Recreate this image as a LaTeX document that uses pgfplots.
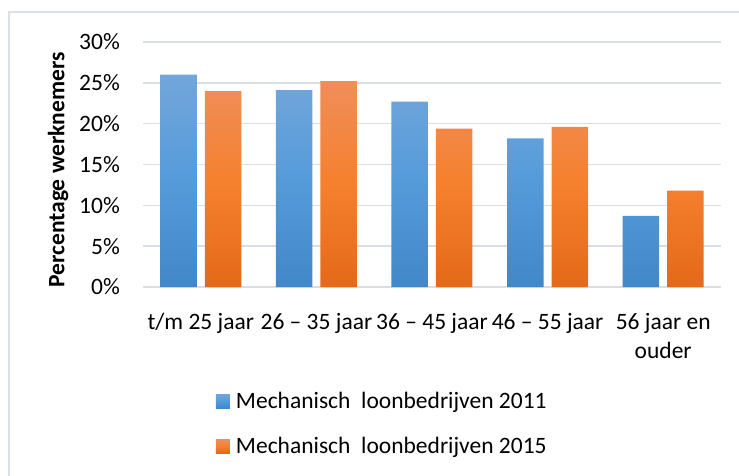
\documentclass[border=0pt]{standalone}
\usepackage{pgfplots}
\pgfplotsset{compat=1.18}
\usepackage{fontspec}
\setmainfont{Carlito}
\definecolor{gridc}{RGB}{217,222,228}
\definecolor{bordc}{RGB}{220,225,231}
\definecolor{btop}{RGB}{114,166,218}
\definecolor{bmid}{RGB}{85,155,218}
\definecolor{bbot}{RGB}{66,136,201}
\definecolor{otop}{RGB}{240,142,90}
\definecolor{omid}{RGB}{245,128,45}
\definecolor{obot}{RGB}{228,105,25}
\begin{document}
\fontsize{23.5bp}{29bp}\selectfont
\begin{tikzpicture}
\useasboundingbox (-143bp,-189bp) rectangle (596bp,287bp);
\draw[bordc, line width=2bp] (-134bp,-200bp) -- (-134bp,275bp) -- (610bp,275bp);
\begin{axis}[
  at={(0,0)}, anchor=south west,
  scale only axis,
  width=578bp, height=245bp,
  xmin=-0.5, xmax=4.5,
  ymin=0, ymax=30,
  ybar=8bp, bar width=36.5bp,
  xtick={0,1,2,3,4},
  xticklabels={t/m 25 jaar, 26 – 35 jaar, 36 – 45 jaar, 46 – 55 jaar, {\begin{tabular}[t]{@{}c@{}}56 jaar en\\ouder\end{tabular}}},
  ytick={0,5,10,15,20,25,30},
  yticklabels={0\%,5\%,10\%,15\%,20\%,25\%,30\%},
  axis line style={draw=none},
  tick style={draw=none},
  ymajorgrids,
  major grid style={gridc, line width=1.4bp},
  yticklabel style={anchor=east, inner sep=0pt, xshift=-23bp},
  xticklabel style={anchor=base, inner sep=0pt, yshift=-38bp},
  ylabel={\bfseries Percentage werknemers},
  ylabel style={at={(axis description cs:-0.147,0.478)}, anchor=center, inner sep=0pt},
  legend style={at={(axis description cs:0.1263,-0.4286)}, anchor=north west,
    draw=none, fill=none, inner sep=0pt, outer sep=0pt, row sep=24bp,
    cells={anchor=base west},
    /tikz/every odd column/.append style={column sep=6bp},
    nodes={inner sep=0pt, text height=16bp, text depth=5bp}},
  legend image code/.code={
    \fill[#1] (0bp,0bp) rectangle (14bp,14bp);},
]
\addplot[draw=none, top color=btop, bottom color=bbot, middle color=bmid]
  coordinates {(0,26.0) (1,24.1) (2,22.7) (3,18.2) (4,8.7)};
\addlegendentry{Mechanisch\ \ loonbedrijven 2011}
\addplot[draw=none, top color=otop, bottom color=obot, middle color=omid]
  coordinates {(0,24.0) (1,25.2) (2,19.4) (3,19.6) (4,11.8)};
\addlegendentry{Mechanisch\ \ loonbedrijven 2015}
\end{axis}
\end{tikzpicture}
\end{document}
